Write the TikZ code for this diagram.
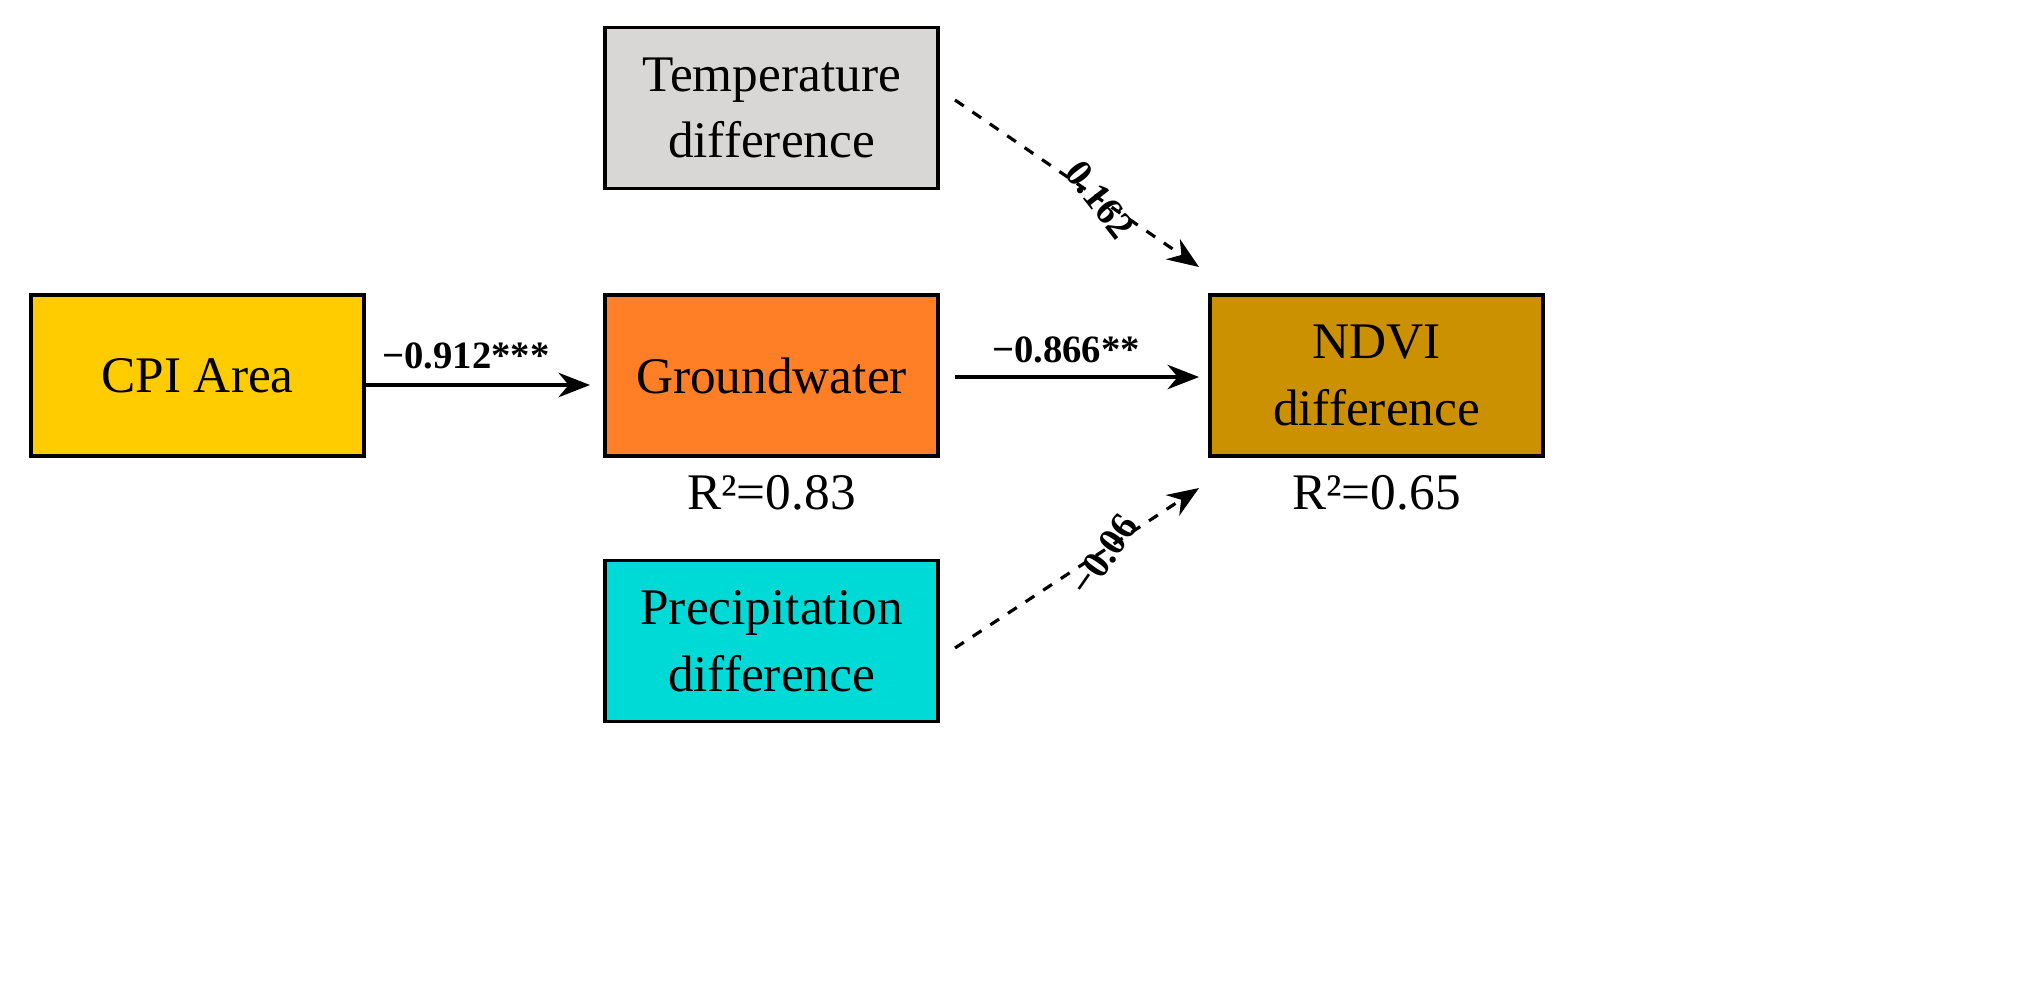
\documentclass[tikz,border=0pt]{standalone}
\usepackage{fontspec}
\setmainfont{Liberation Serif}
\usetikzlibrary{arrows.meta}
\definecolor{cgray}{HTML}{D9D6D6}
\definecolor{cyel}{HTML}{FFCC00}
\definecolor{corg}{HTML}{FF7F27}
\definecolor{cbrn}{HTML}{CC9100}
\definecolor{ccyan}{HTML}{00DAD6}
\begin{document}
\begin{tikzpicture}[x=1cm,y=-1cm,
  box/.style={draw=black,line width=0.9pt,minimum width=3.33cm,minimum height=1.61cm,inner sep=0pt,align=center,font=\fontsize{14.6}{19}\selectfont},
  arr/.style={-{Stealth[length=9pt,width=7pt]},line width=0.9pt},
  lab/.style={font=\bfseries\fontsize{11}{13}\selectfont}]
\path[use as bounding box] (0,0) rectangle (20.36,9.84);
\node[box,fill=cgray] (temp) at (7.715,1.08) {Temperature\\difference};
\node[box,fill=cyel] (cpi) at (1.975,3.755) {CPI Area};
\node[box,fill=corg] (gw) at (7.715,3.755) {Groundwater};
\node[box,fill=cbrn] (ndvi) at (13.765,3.755) {NDVI\\difference};
\node[box,fill=ccyan] (pre) at (7.715,6.41) {Precipitation\\difference};
\node[font=\fontsize{14.6}{18}\selectfont] (r1) at (7.715,4.93) {R²=0.83};
\node[font=\fontsize{14.6}{18}\selectfont] (r2) at (13.765,4.93) {R²=0.65};
\coordinate (a1) at (3.63,3.85); \coordinate (b1) at (5.90,3.85);
\coordinate (a2) at (9.55,3.77); \coordinate (b2) at (11.99,3.77);
\coordinate (a3) at (9.55,1.00); \coordinate (b3) at (11.99,2.67);
\coordinate (a4) at (9.55,6.48); \coordinate (b4) at (11.99,4.88);
\draw[arr] (a1) -- (b1);
\draw[arr] (a2) -- (b2);
\draw[arr,dashed] (a3) -- (b3);
\draw[arr,dashed] (a4) -- (b4);
\node[lab] (l1) at (4.66,3.56) {−0.912***};
\node[lab] (l2) at (10.66,3.50) {−0.866**};
\node[lab,rotate=-52] (l3) at (11.0,2.0) {0.162};
\node[lab,rotate=55] (l4) at (11.04,5.55) {−0.06};
\end{tikzpicture}
\end{document}
